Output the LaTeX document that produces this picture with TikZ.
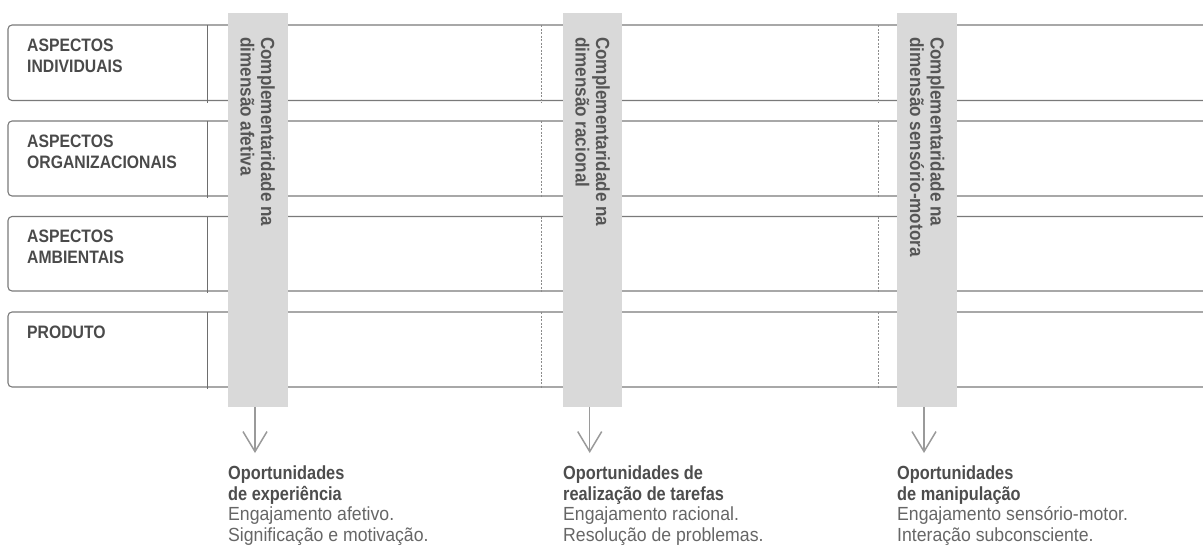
\documentclass[tikz,border=0pt]{standalone}
\usepackage{fontspec}
\setmainfont{Liberation Sans}
\newfontfamily\rowfont[FakeStretch=0.875]{Liberation Sans}
\newfontfamily\bandfont[FakeStretch=0.9]{Liberation Sans}
\newfontfamily\oppbfont[FakeStretch=0.86]{Liberation Sans}
\newfontfamily\opprfont[FakeStretch=0.93]{Liberation Sans}
\usetikzlibrary{arrows.meta}
\definecolor{rowline}{HTML}{7A7A7A}
\definecolor{sepcol}{HTML}{6E6E6E}
\definecolor{dashcol}{HTML}{8C8C8C}
\definecolor{bandgray}{HTML}{D9D9D9}
\definecolor{bandtxt}{HTML}{555555}
\definecolor{rowtxt}{HTML}{4A4A4A}
\definecolor{oppbold}{HTML}{4D4D4D}
\definecolor{oppreg}{HTML}{666666}
\definecolor{arrowgray}{HTML}{9A9A9A}
\newcommand\oppB[1]{{\oppbfont\bfseries\color{oppbold}#1}}
\newcommand\oppR[1]{{\opprfont\color{oppreg}#1}}
\tikzset{
  rowedge/.style={draw=rowline, line width=1.1pt, rounded corners=4pt},
  sepline/.style={draw=sepcol, line width=0.8pt},
  dashsep/.style={draw=dashcol, line width=0.6pt, dash pattern=on 2pt off 1.5pt},
  bandbox/.style={fill=bandgray, draw=none, inner sep=0pt, anchor=north west, minimum width=59.5pt, minimum height=393.5pt},
  bandtext/.style={rotate=-90, anchor=north west, inner sep=0pt, align=left, text=bandtxt, font=\bandfont\bfseries\fontsize{19}{20.5}\selectfont},
  rowlabel/.style={anchor=north west, inner sep=0pt, align=left, text=rowtxt, font=\rowfont\bfseries\fontsize{18}{21}\selectfont},
  opptext/.style={anchor=north west, inner sep=0pt, align=left, font=\fontsize{19}{20.5}\selectfont},
  downarrow/.style={draw=arrowgray, line width=1.5pt, -{Straight Barb[length=20pt, width=24pt]}}
}
\begin{document}
\begin{tikzpicture}[x=1pt, y=-1pt]
\useasboundingbox (0,0) rectangle (1203,552);
% rows
\foreach \t/\b in {25/100.5, 121/196, 216.5/291, 312/387} {
  \draw[rowedge] (1210,\t) -- (8,\t) -- (8,\b) -- (1210,\b);
  \draw[sepline] (207.5,\t) -- (207.5,\b+2);
  \draw[dashsep] (541.7,\t) -- (541.7,\b+2);
  \draw[dashsep] (878.3,\t) -- (878.3,\b+2);
}
\node[rowlabel] (r1) at (27,39) {ASPECTOS\\INDIVIDUAIS};
\node[rowlabel] (r2) at (27,135) {ASPECTOS\\ORGANIZACIONAIS};
\node[rowlabel] (r3) at (27,229.5) {ASPECTOS\\AMBIENTAIS};
\node[rowlabel] (r4) at (27,326) {PRODUTO};
% bands
\node[bandbox] (b1) at (228,13) {};
\node[bandbox] (b2) at (562.5,13) {};
\node[bandbox] (b3) at (897,13) {};
\node[bandtext] (bt1) at (275,37) {Complementaridade na\\dimensão afetiva};
\node[bandtext] (bt2) at (610,37) {Complementaridade na\\dimensão racional};
\node[bandtext] (bt3) at (944.5,37) {Complementaridade na\\dimensão sensório-motora};
% bottom texts
\node[opptext] (o1) at (228,466) {\oppB{Oportunidades}\\\oppB{de experiência}\\\oppR{Engajamento afetivo.}\\\oppR{Significação e motivação.}};
\node[opptext] (o2) at (563,466) {\oppB{Oportunidades de}\\\oppB{realização de tarefas}\\\oppR{Engajamento racional.}\\\oppR{Resolução de problemas.}};
\node[opptext] (o3) at (897,466) {\oppB{Oportunidades}\\\oppB{de manipulação}\\\oppR{Engajamento sensório-motor.}\\\oppR{Interação subconsciente.}};
% arrows
\coordinate (t1) at (255,453);
\coordinate (t2) at (589.7,453);
\coordinate (t3) at (924,453);
\draw[downarrow] (b1.south -| t1) -- (t1);
\draw[downarrow] (b2.south -| t2) -- (t2);
\draw[downarrow] (b3.south -| t3) -- (t3);
\end{tikzpicture}
\end{document}
